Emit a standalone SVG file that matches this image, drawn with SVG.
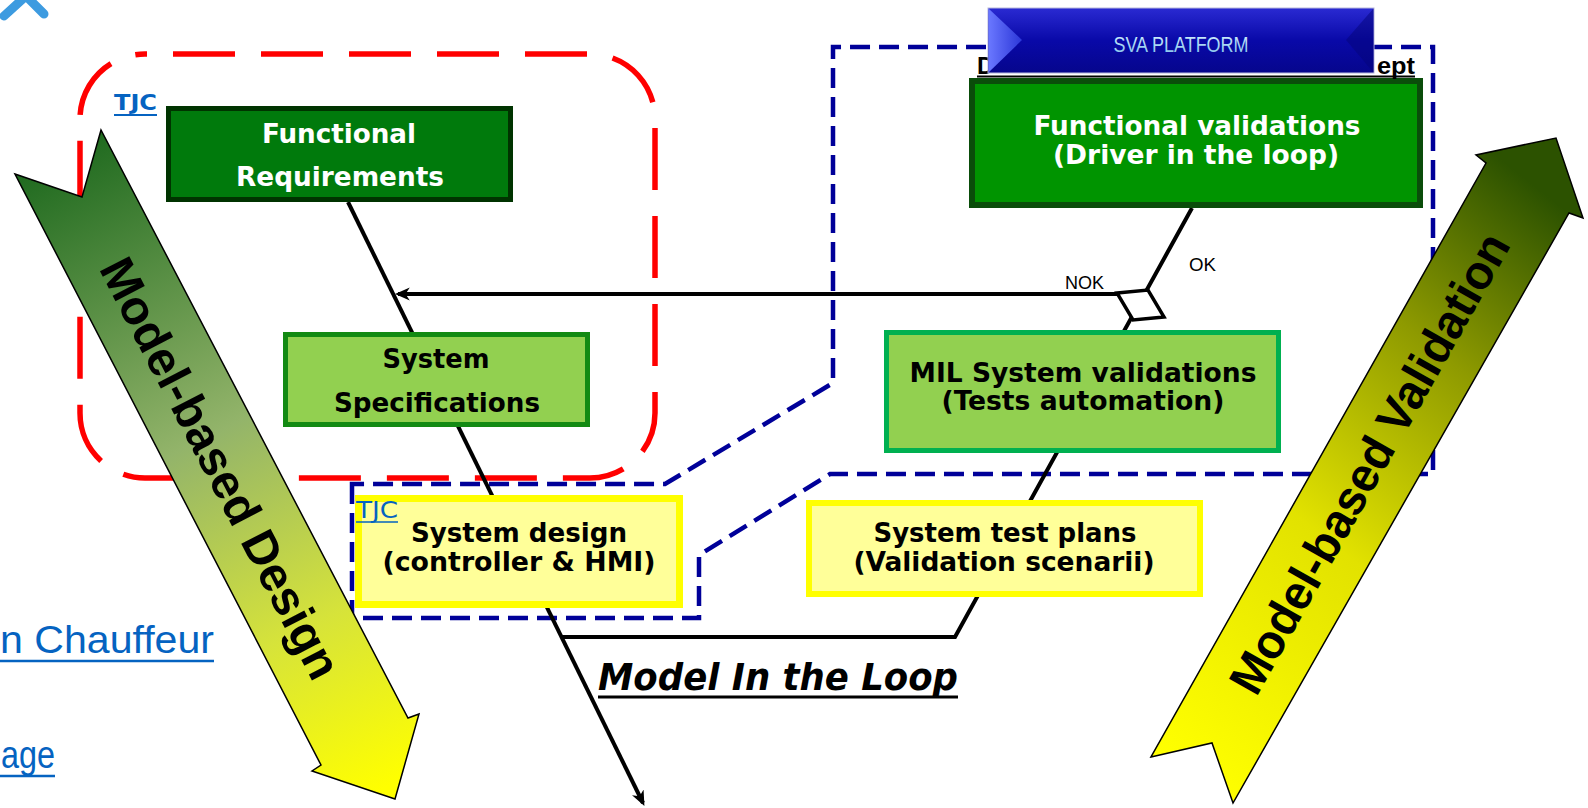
<svg xmlns="http://www.w3.org/2000/svg" width="1588" height="808" viewBox="0 0 1588 808">
<style>
.bt{font-family:"DejaVu Sans Condensed","DejaVu Sans",sans-serif;font-weight:bold;font-size:27px;text-anchor:middle}
.w{fill:#ffffff}
.k{fill:#000000}
.conn{stroke:#000;stroke-width:4;fill:none}
.lbl{font-family:"Liberation Sans",Arial,sans-serif;font-size:18px;fill:#000}
.big{font-family:"Liberation Sans",Arial,sans-serif;font-weight:bold;font-size:48px;fill:#000;text-anchor:middle}
.link{font-family:"Liberation Sans",Arial,sans-serif;font-size:38px;fill:#0563c1}
.tjc{font-family:"DejaVu Sans Condensed","DejaVu Sans",sans-serif;fill:#0563c1}
</style>
<defs>
<marker id="ah" markerUnits="userSpaceOnUse" viewBox="0 0 14 14" markerWidth="15" markerHeight="15" refX="11" refY="7" orient="auto">
<path d="M0,1 L14,7 L0,13 L4,7 Z" fill="#000"/>
</marker>
<linearGradient id="gDesign" gradientUnits="userSpaceOnUse" x1="58" y1="152" x2="380" y2="790">
<stop offset="0" stop-color="#1f6a1f"/>
<stop offset="0.45" stop-color="#93b46a"/>
<stop offset="0.75" stop-color="#d6e33a"/>
<stop offset="1" stop-color="#ffff00"/>
</linearGradient>
<linearGradient id="gValid" gradientUnits="userSpaceOnUse" x1="1170" y1="760" x2="1590" y2="230">
<stop offset="0" stop-color="#ffff00"/>
<stop offset="0.4" stop-color="#e2e200"/>
<stop offset="0.72" stop-color="#8e9a00"/>
<stop offset="1" stop-color="#2c5200"/>
</linearGradient>
<linearGradient id="gBanner" x1="0" y1="0" x2="0" y2="1">
<stop offset="0" stop-color="#2a2ad2"/>
<stop offset="0.5" stop-color="#0909a8"/>
<stop offset="1" stop-color="#06068c"/>
</linearGradient>
<linearGradient id="gChev" x1="0" y1="0" x2="1" y2="0">
<stop offset="0" stop-color="#6a78ff"/>
<stop offset="1" stop-color="#2b36d8"/>
</linearGradient>
<linearGradient id="gSva" x1="0" y1="0" x2="0" y2="1">
<stop offset="0" stop-color="#d8f2ff"/>
<stop offset="1" stop-color="#7cc0e8"/>
</linearGradient>
</defs>

<g id="page-artifacts">
<polyline points="4,16 26,-4 44,14" fill="none" stroke="#3d9be0" stroke-width="9" stroke-linecap="round" stroke-linejoin="round"/>
<text class="link" x="0" y="653" textLength="214" lengthAdjust="spacingAndGlyphs">n Chauffeur</text>
<line x1="0" y1="661" x2="214" y2="661" stroke="#0563c1" stroke-width="2.5"/>
<text class="link" x="1" y="768" textLength="54" lengthAdjust="spacingAndGlyphs">age</text>
<line x1="0" y1="776" x2="55" y2="776" stroke="#0563c1" stroke-width="2.5"/>
</g>

<g id="regions">
<rect x="80" y="54" width="575" height="424" rx="65" ry="65" fill="none" stroke="#ff0000" stroke-width="5.5" stroke-dasharray="62 26" stroke-dashoffset="60"/>
<path d="M352,484 L352,618 L699,618 L699,555 L830,474 L1433,474 L1433,47 L833,47 L833,383 L665,484 Z" fill="none" stroke="#000099" stroke-width="4.5" stroke-dasharray="20 9"/>
</g>

<g id="arrow-design">
<polygon points="15,174 82,197 101,130 408,718 419,714 395,799 312,771 321,765" fill="url(#gDesign)" stroke="#000" stroke-width="1.5"/>
<text class="big" transform="translate(221,468) rotate(62.6)" y="17" textLength="467" lengthAdjust="spacingAndGlyphs">Model-based Design</text>
</g>

<g id="arrow-validation">
<polygon points="1151,757 1212,743 1233,803 1569,213 1583,218 1556,138 1476,155 1486,163" fill="url(#gValid)" stroke="#000" stroke-width="1.5"/>
<text class="big" transform="translate(1369,463) rotate(-60.6)" y="17" textLength="520" lengthAdjust="spacingAndGlyphs">Model-based Validation</text>
</g>

<g id="connectors">
<line class="conn" x1="348" y1="202" x2="643" y2="803" marker-end="url(#ah)"/>
<polyline class="conn" points="1192,208 955,637 562,637"/>
<line class="conn" x1="1117" y1="294" x2="398" y2="294" marker-end="url(#ah)"/>
<polygon points="1117,293 1148,290 1164,317 1133,320" fill="#ffffff" stroke="#000" stroke-width="3.5" stroke-linejoin="miter"/>
<text class="lbl" x="1189" y="271" textLength="27" lengthAdjust="spacingAndGlyphs">OK</text>
<text class="lbl" x="1065" y="289" textLength="39" lengthAdjust="spacingAndGlyphs">NOK</text>
</g>

<g id="node-functional-requirements">
<rect x="168.5" y="108.5" width="342" height="91" fill="#007a0c" stroke="#003300" stroke-width="5"/>
<text class="bt w" x="339" y="143" textLength="154" lengthAdjust="spacingAndGlyphs">Functional</text>
<text class="bt w" x="340" y="186" textLength="208" lengthAdjust="spacingAndGlyphs">Requirements</text>
</g>
<text id="tjc-1" class="tjc" x="114" y="110" font-size="22" font-weight="bold" textLength="43" lengthAdjust="spacingAndGlyphs">TJC</text>
<line x1="114" y1="115" x2="157" y2="115" stroke="#0563c1" stroke-width="2"/>

<g id="node-system-specifications">
<rect x="285.5" y="334.5" width="302" height="90" fill="#92d050" stroke="#138a13" stroke-width="5"/>
<text class="bt k" x="436" y="368" textLength="107" lengthAdjust="spacingAndGlyphs">System</text>
<text class="bt k" x="437" y="412" textLength="206" lengthAdjust="spacingAndGlyphs">Specifications</text>
</g>

<g id="node-system-design">
<rect x="358.5" y="498.5" width="321" height="106" fill="#ffff99" stroke="#ffff00" stroke-width="7"/>
<text class="bt k" x="519" y="542" textLength="216" lengthAdjust="spacingAndGlyphs">System design</text>
<text class="bt k" x="519" y="571" textLength="273" lengthAdjust="spacingAndGlyphs">(controller &amp; HMI)</text>
</g>
<text id="tjc-2" class="tjc" x="356" y="518" font-size="23" textLength="42" lengthAdjust="spacingAndGlyphs">TJC</text>
<line x1="356" y1="522" x2="398" y2="522" stroke="#0563c1" stroke-width="1.5"/>

<g id="node-functional-validations">
<rect x="972" y="81" width="448" height="124" fill="#009400" stroke="#0a4d0a" stroke-width="6"/>
<text class="bt w" x="1197" y="135" textLength="327" lengthAdjust="spacingAndGlyphs">Functional validations</text>
<text class="bt w" x="1196" y="164" textLength="286" lengthAdjust="spacingAndGlyphs">(Driver in the loop)</text>
</g>

<g id="node-mil-validations">
<rect x="886.5" y="332.5" width="392" height="118" fill="#92d050" stroke="#00b050" stroke-width="5"/>
<text class="bt k" x="1083" y="382" textLength="347" lengthAdjust="spacingAndGlyphs">MIL System validations</text>
<text class="bt k" x="1083" y="410" textLength="283" lengthAdjust="spacingAndGlyphs">(Tests automation)</text>
</g>

<g id="node-system-test-plans">
<rect x="809" y="503" width="391" height="91" fill="#ffff99" stroke="#ffff00" stroke-width="6"/>
<text class="bt k" x="1005" y="542" font-size="25" textLength="263" lengthAdjust="spacingAndGlyphs">System test plans</text>
<text class="bt k" x="1004" y="571" font-size="25" textLength="301" lengthAdjust="spacingAndGlyphs">(Validation scenarii)</text>
</g>

<g id="label-mil">
<text x="598" y="690" font-family="'DejaVu Sans Condensed','DejaVu Sans',sans-serif" font-weight="bold" font-style="italic" font-size="38" fill="#000" textLength="360" lengthAdjust="spacingAndGlyphs">Model In the Loop</text>
<line x1="598" y1="697" x2="958" y2="697" stroke="#000" stroke-width="3"/>
</g>

<g id="sva-platform">
<text x="977" y="74" font-family="'Liberation Sans',Arial,sans-serif" font-weight="bold" font-size="24" fill="#000">D</text>
<text x="1377" y="74" font-family="'Liberation Sans',Arial,sans-serif" font-weight="bold" font-size="24" fill="#000" textLength="38" lengthAdjust="spacingAndGlyphs">ept</text>
<line x1="977" y1="76.5" x2="1415" y2="76.5" stroke="#000" stroke-width="2"/>
<rect x="988" y="8" width="386" height="65" fill="url(#gBanner)" stroke="#b8b8dc" stroke-width="1"/>
<polygon points="988.5,8.5 1022,40 988.5,72.5" fill="url(#gChev)"/>
<polygon points="1373.5,8.5 1346,40 1373.5,72.5" fill="#04047a" opacity="0.5"/>
<text x="1181" y="52" font-family="'Liberation Sans',Arial,sans-serif" font-size="22" fill="url(#gSva)" text-anchor="middle" textLength="135" lengthAdjust="spacingAndGlyphs">SVA PLATFORM</text>
</g>
</svg>
